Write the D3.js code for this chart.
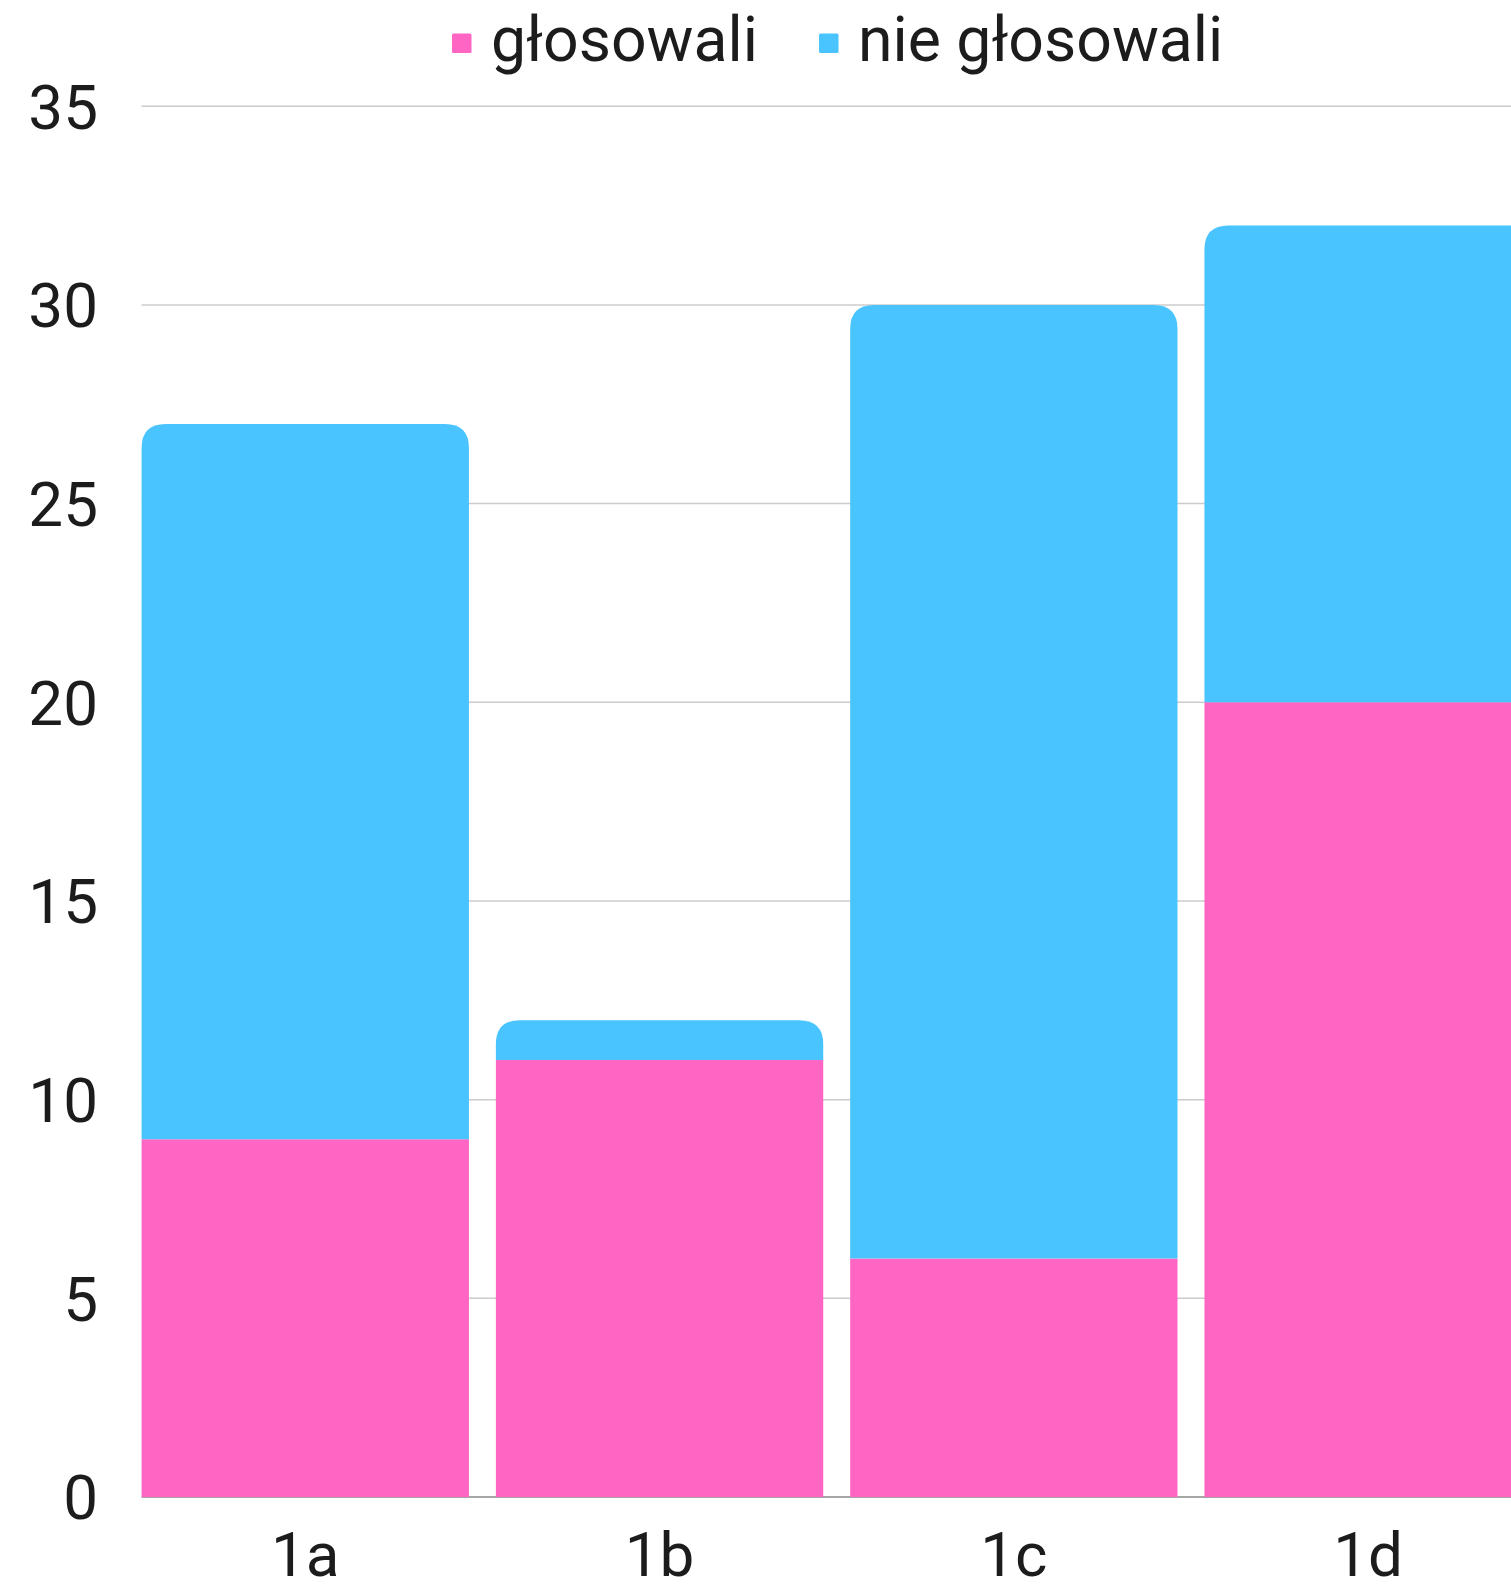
<!DOCTYPE html>
<html>
<head>
<meta charset="utf-8">
<script src="https://cdn.jsdelivr.net/npm/d3@7"></script>
<style>
  html, body { margin: 0; padding: 0; background: #fff; overflow: hidden; }
  svg { display: block; }
  text { font-family: Roboto, "Noto Sans", sans-serif; fill: #1c1c1c; }
</style>
</head>
<body>
<svg id="chart" width="1511" height="1586"></svg>
<script>
const categories = ["1a", "1b", "1c", "1d"];
const voted = [9, 11, 6, 20];
const notVoted = [18, 1, 24, 12];
const seriesNames = ["głosowali", "nie głosowali"];
const seriesColors = ["#FF66C4", "#4AC4FF"];
const yTicks = [0, 5, 10, 15, 20, 25, 30, 35];

const svg = d3.select("#chart");
const W = 1511, H = 1586;
const plotLeft = 141.6, plotTop = 106.2, plotBottom = 1497;

const x = d3.scaleBand()
  .domain(categories)
  .range([plotLeft, plotLeft + 3 * 354.4 + 327])
  .paddingInner(0.076)
  .paddingOuter(0);

const y = d3.scaleLinear().domain([0, 35]).range([plotBottom, plotTop]);

// gridlines
svg.append("g").selectAll("line")
  .data(yTicks.filter(d => d > 0))
  .join("line")
  .attr("x1", plotLeft).attr("x2", W)
  .attr("y1", d => y(d)).attr("y2", d => y(d))
  .attr("stroke", "#cccccc").attr("stroke-width", 1.5);

// y tick labels
svg.append("g").selectAll("text")
  .data(yTicks)
  .join("text")
  .attr("x", 98).attr("y", d => y(d))
  .attr("dy", "0.36em")
  .attr("text-anchor", "end")
  .attr("font-size", 62)
  .text(d => d);

// baseline
svg.append("line")
  .attr("x1", plotLeft).attr("x2", W)
  .attr("y1", y(0)).attr("y2", y(0))
  .attr("stroke", "#888").attr("stroke-width", 1.5);

const stack = d3.stack().keys([0, 1]).value((d, k) => d[k]);
const rows = categories.map((c, i) => { const r = [voted[i], notVoted[i]]; r.cat = c; return r; });
const stacked = stack(rows);

const r = 24;
function topRounded(x0, y0, w, h, rad) {
  const rr = Math.min(rad, h, w / 2);
  return `M${x0},${y0 + h}V${y0 + rr}Q${x0},${y0} ${x0 + rr},${y0}H${x0 + w - rr}Q${x0 + w},${y0} ${x0 + w},${y0 + rr}V${y0 + h}Z`;
}

stacked.forEach((layer, li) => {
  svg.append("g").selectAll("path")
    .data(layer)
    .join("path")
    .attr("fill", seriesColors[li])
    .attr("d", d => {
      const x0 = x(d.data.cat), w = x.bandwidth();
      const yTop = y(d[1]), yBot = y(d[0]);
      if (li === stacked.length - 1) return topRounded(x0, yTop, w, yBot - yTop, r);
      return `M${x0},${yBot}V${yTop}H${x0 + w}V${yBot}Z`;
    });
});

// x labels
svg.append("g").selectAll("text")
  .data(categories)
  .join("text")
  .attr("x", d => x(d) + x.bandwidth() / 2)
  .attr("y", 1576)
  .attr("text-anchor", "middle")
  .attr("font-size", 62)
  .text(d => d);

// legend
const legend = [
  { name: seriesNames[0], color: seriesColors[0], sx: 452, tx: 491 },
  { name: seriesNames[1], color: seriesColors[1], sx: 819, tx: 858 }
];
const lg = svg.append("g");
legend.forEach(l => {
  lg.append("rect").attr("x", l.sx).attr("y", 33.5).attr("width", 19.5).attr("height", 19.5)
    .attr("rx", 1.5).attr("fill", l.color);
  lg.append("text").attr("x", l.tx).attr("y", 61).attr("font-size", 62.5).text(l.name);
});
</script>
</body>
</html>
